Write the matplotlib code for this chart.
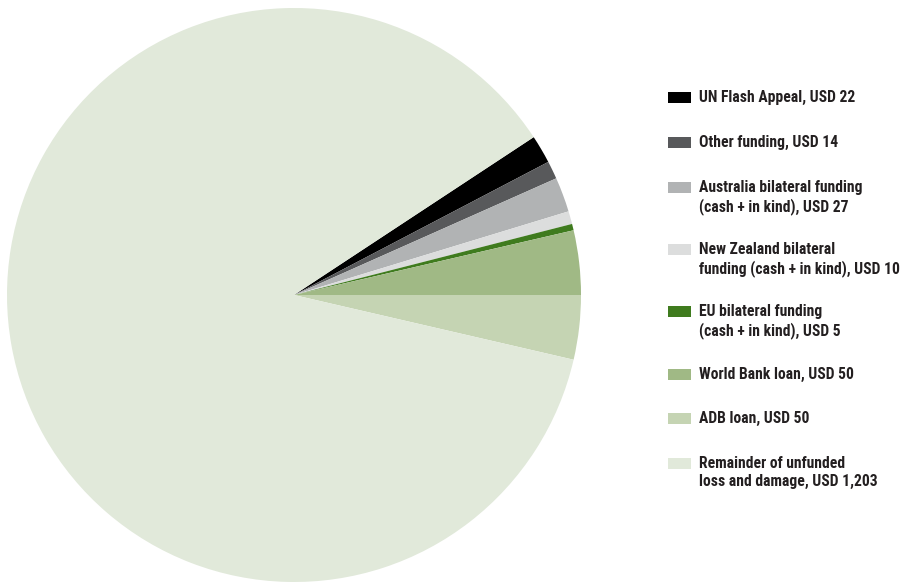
import matplotlib
matplotlib.use("Agg")
import matplotlib.pyplot as plt
from matplotlib import font_manager

# Dữ liệu (USD triệu)
labels = [
    "UN Flash Appeal, USD 22",
    "Other funding, USD 14",
    "Australia bilateral funding\n(cash + in kind), USD 27",
    "New Zealand bilateral\nfunding (cash + in kind), USD 10",
    "EU bilateral funding\n(cash + in kind), USD 5",
    "World Bank loan, USD 50",
    "ADB loan, USD 50",
    "Remainder of unfunded\nloss and damage, USD 1,203",
]
values = [22, 14, 27, 10, 5, 50, 50, 1203]
colors = ["#000000", "#58595b", "#b1b3b4", "#dcdddd",
          "#3f7b1e", "#a0b985", "#c5d4b3", "#e1e9da"]

# chon font hep neu co
fonts = font_manager.fontManager.ttflist
names = {f.name for f in fonts}
family, stretch = "Roboto", "normal"
for cand in ["Liberation Sans Narrow", "Roboto Condensed", "Open Sans Condensed"]:
    if cand in names:
        family = cand
        break
else:
    for f in fonts:
        if f.name in ("Noto Sans", "Open Sans", "DejaVu Sans", "Roboto") and \
                f.stretch in ("condensed", "semi-condensed", 500, 400, 300) and \
                str(f.stretch) not in ("normal",):
            family, stretch = f.name, "condensed"
            break

W, H = 904, 582
fig = plt.figure(figsize=(W / 100, H / 100), dpi=100)
ax = fig.add_axes([0, 0, 1, 1])

# World Bank ket thuc tai 0 do, xep theo chieu kim dong ho
start = 360 * sum(values[:6]) / sum(values)
ax.pie(values, colors=colors, startangle=start, counterclock=False,
       center=(294, H - 295), radius=287, frame=True,
       wedgeprops=dict(linewidth=0))
ax.set_xlim(0, W)
ax.set_ylim(0, H)
ax.set_aspect("equal")
ax.axis("off")

# Chu thich
rows_y = [97, 142, 187, 249, 311, 374, 418, 463]
size = 10.5
texts = []
for lab, col, y in zip(labels, colors, rows_y):
    ax.add_patch(plt.Rectangle((668, H - y - 5.5), 23, 11, color=col, lw=0))
    t = ax.text(699, H - y, lab, ha="left", va="baseline", fontsize=size,
                fontweight="bold", family=family, fontstretch=stretch,
                color="#231f20", linespacing=1.3)
    texts.append(t)

# co chu sao cho dong dau rong ~156 px nhu ban goc
r = fig.canvas.get_renderer()
w = texts[0].get_window_extent(r).width
k = 156 / w
for t, y in zip(texts, rows_y):
    t.set_fontsize(size * k)
    t.set_va("top")
    t.set_y(H - y + 7.5)

fig.savefig("out.png", dpi=100)
